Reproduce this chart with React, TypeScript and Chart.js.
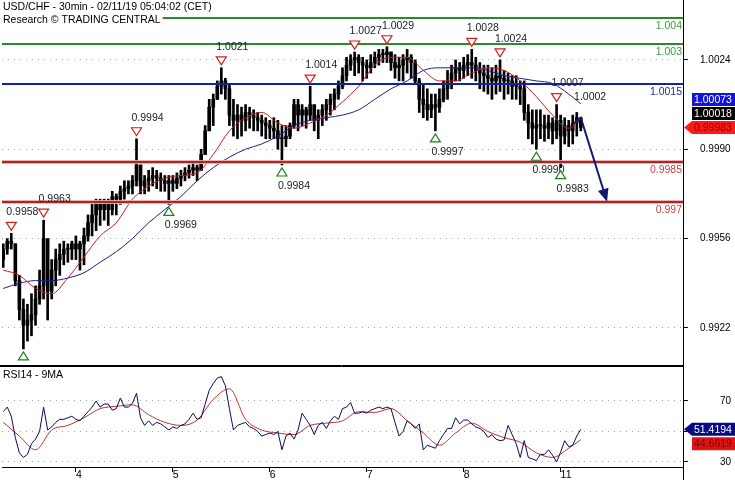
import React, { useEffect, useRef } from 'react';
import { Chart, registerables } from 'chart.js';

Chart.register(...registerables);

const FONT_FAMILY = '"Liberation Sans", Arial, sans-serif';
const FONT = '10.5px ' + FONT_FAMILY;

const titleLine1 = 'USD/CHF - 30min - 02/11/19 05:04:02 (CET)';
const titleLine2 = 'Research © TRADING CENTRAL';
const rsiTitle = 'RSI14 - 9MA';

// x axis: hourly bar index; day separators
const dayTickHours = [18, 42, 66, 90, 114, 138];
const dayTickLabels = ['4', '5', '6', '7', '8', '11'];
const priceTicks = [1.0024, 0.999, 0.9956, 0.9922];
const rsiTicks = [70, 50, 30];
const rsiTickLabels = ['70', '', '30'];

// hourly bars
const firstOpen = 0.9948;
const highs = [
  0.9954, 0.9956, 0.9958, 0.9954, 0.9942, 0.9933, 0.9931, 0.9935, 0.9938, 0.9944,
  0.9963, 0.9954, 0.9948, 0.9952, 0.9954, 0.9955, 0.9954, 0.9955, 0.9957, 0.9955,
  0.996, 0.9965, 0.9969, 0.9971, 0.9971, 0.9971, 0.9971, 0.9974, 0.9973, 0.9976,
  0.9978, 0.9978, 0.998, 0.9994, 0.9984, 0.998, 0.9982, 0.9983, 0.9982, 0.9981,
  0.998, 0.998, 0.998, 0.9981, 0.9982, 0.9983, 0.9984, 0.9985, 0.9984, 0.999,
  0.9999, 1.0009, 1.0011, 1.0016, 1.0021, 1.0017, 1.0015, 1.0009, 1.0007, 1.0006,
  1.0007, 1.0006, 1.0005, 1.0004, 1.0003, 1.0002, 1.0001, 1.0002, 1.0001, 0.9999,
  0.9999, 1.0, 1.0009, 1.0009, 1.0007, 1.0006, 1.0014, 1.0006, 1.0005, 1.0007,
  1.0009, 1.0011, 1.0013, 1.0016, 1.0021, 1.0025, 1.0026, 1.0027, 1.0026, 1.0025,
  1.0024, 1.0026, 1.0027, 1.0028, 1.0028, 1.0029, 1.0027, 1.0026, 1.0025, 1.0026,
  1.0028, 1.0026, 1.0024, 1.0017, 1.0015, 1.0013, 1.0011, 1.0011, 1.0013, 1.0016,
  1.002, 1.0022, 1.0024, 1.0023, 1.0025, 1.0026, 1.0028, 1.0025, 1.0023, 1.0022,
  1.0022, 1.0021, 1.0022, 1.0024, 1.002, 1.0019, 1.0018, 1.0018, 1.0016, 1.0016,
  1.0007, 1.0005, 1.0005, 1.0005, 1.0003, 1.0003, 1.0002, 1.0007, 1.0003, 1.0002,
  1.0001, 1.0003, 1.0004, 1.0002,
];
const lows = [
  0.9945, 0.995, 0.9952, 0.9938, 0.9925, 0.9914, 0.9917, 0.9919, 0.9923, 0.9931,
  0.9933, 0.9925, 0.9933, 0.9938, 0.9942, 0.9946, 0.9947, 0.9948, 0.9948, 0.9944,
  0.9946, 0.9955, 0.9957, 0.9959, 0.9961, 0.9963, 0.9961, 0.9965, 0.9965, 0.9969,
  0.9971, 0.9973, 0.9973, 0.9976, 0.9973, 0.9973, 0.9974, 0.9976, 0.9975, 0.9974,
  0.9974, 0.9969, 0.9974, 0.9975, 0.9976, 0.9978, 0.9979, 0.998, 0.9978, 0.9982,
  0.9988, 0.9997, 0.9999, 1.0009, 1.0011, 1.0009, 0.9999, 0.9995, 0.9994, 0.9995,
  0.9997, 0.9998, 0.9997, 0.9997, 0.9995, 0.9994, 0.9994, 0.9994, 0.999, 0.9984,
  0.9991, 0.9994, 0.9998, 0.9997, 0.9999, 0.9998, 1.0001, 0.9997, 0.9994, 0.9999,
  1.0001, 1.0003, 1.0005, 1.0009, 1.0013, 1.0016, 1.002, 1.0018, 1.0019, 1.0016,
  1.0017, 1.0019, 1.0021, 1.0022, 1.0023, 1.0023, 1.002, 1.0017, 1.0016, 1.0016,
  1.0019, 1.0017, 1.0015, 1.0004, 1.0002, 1.0001, 1.0002, 0.9997, 1.0004, 1.0008,
  1.0009, 1.0013, 1.0016, 1.0016, 1.0017, 1.0018, 1.0017, 1.0016, 1.0013, 1.0012,
  1.0011, 1.0009, 1.0011, 1.0012, 1.0009, 1.0011, 1.0009, 1.0009, 1.0007, 1.0001,
  0.9994, 0.9992, 0.999, 0.9994, 0.9993, 0.9994, 0.9992, 0.9994, 0.9983, 0.9992,
  0.9991, 0.9992, 0.9995, 0.9997,
];
const closes = [
  0.9952, 0.9955, 0.9954, 0.994, 0.9929, 0.9923, 0.9925, 0.9927, 0.9933, 0.9938,
  0.9956, 0.9936, 0.9944, 0.9948, 0.995, 0.9952, 0.9952, 0.9954, 0.9952, 0.9954,
  0.9957, 0.9962, 0.9965, 0.9969, 0.9967, 0.9969, 0.9967, 0.9972, 0.9971, 0.9974,
  0.9975, 0.9976, 0.9978, 0.9984, 0.9976, 0.9978, 0.9979, 0.998, 0.9979, 0.9978,
  0.9977, 0.9978, 0.9977, 0.9979, 0.998, 0.9981, 0.9982, 0.9983, 0.9982, 0.9988,
  0.9997, 1.0006, 1.0009, 1.0014, 1.0016, 1.0013, 1.0003, 1.0001, 1.0003, 1.0001,
  1.0004, 1.0003, 1.0002, 1.0001, 1.0, 0.9999, 0.9998, 0.9997, 0.9994, 0.9994,
  0.9995, 0.9999, 1.0007, 1.0003, 1.0005, 1.0003, 1.0007, 1.0001, 1.0003, 1.0005,
  1.0007, 1.0009, 1.0011, 1.0014, 1.0018, 1.0022, 1.0024, 1.0025, 1.0023, 1.0022,
  1.0021, 1.0023, 1.0025, 1.0026, 1.0026, 1.0027, 1.0023, 1.0021, 1.0022, 1.0024,
  1.0025, 1.0023, 1.0016, 1.0009, 1.0007, 1.0005, 1.0007, 1.0006, 1.0009, 1.0013,
  1.0016, 1.0019, 1.0021, 1.002, 1.0022, 1.0023, 1.0022, 1.002, 1.0019, 1.0018,
  1.0017, 1.0016, 1.0018, 1.0017, 1.0016, 1.0016, 1.0014, 1.0014, 1.0013, 1.0004,
  1.0, 0.9998, 0.9999, 0.9999, 0.9998, 1.0, 0.9997, 1.0001, 0.9995, 0.9999,
  0.9997, 1.0, 1.0002, 0.99983,
];

// moving averages sampled every 4 hours
const maHours = [0, 4, 8, 12, 16, 20, 24, 28, 32, 36, 40, 44, 48, 52, 56, 60, 64, 68, 72, 76, 80, 84, 88, 92, 96, 100, 104, 108, 112, 116, 120, 124, 128, 132, 136, 140, 143];
const fastMA = [
  0.9944, 0.9942, 0.9937, 0.9935, 0.9941, 0.9949, 0.9957, 0.9962, 0.9971, 0.9976,
  0.9979, 0.998, 0.9981, 0.9988, 0.9997, 1.0002, 1.0004, 1.0, 0.9998, 1.0,
  1.0003, 1.0008, 1.0014, 1.0022, 1.0025, 1.0025, 1.002, 1.0016, 1.0016, 1.0019,
  1.0021, 1.002, 1.0016, 1.001, 1.0003, 0.9998, 1.00018,
];
const slowMA = [
  0.9937, 0.9939, 0.994, 0.994, 0.9941, 0.9943, 0.9947, 0.9951, 0.9956, 0.9962,
  0.9967, 0.9972, 0.9978, 0.9983, 0.9987, 0.999, 0.9992, 0.9995, 0.9999, 1.0001,
  1.0002, 1.0003, 1.0005, 1.0009, 1.0013, 1.0016, 1.002, 1.0021, 1.0021, 1.0021,
  1.002, 1.0018, 1.0017, 1.0016, 1.0015, 1.0011, 1.00073,
];

// RSI14 hourly and its 9MA
const rsi = [
  63, 66, 60, 46, 36, 33, 35, 42, 45, 50,
  66, 51, 53, 56, 58, 58, 59, 60, 58, 57,
  60, 63, 66, 70, 66, 68, 68, 64, 65, 72,
  66, 66, 68.5, 75, 59, 54, 57, 54, 56, 55,
  53, 51, 53, 52, 54, 55, 58, 62, 58, 59,
  68, 77, 81.5, 85, 86, 80, 65, 51, 54, 55,
  56, 53, 52, 50, 47, 48, 49, 48, 50, 38,
  47, 49, 45, 51, 62, 58, 54, 48, 54, 56,
  52, 57, 60, 58, 65, 66, 69, 62, 62, 63,
  62, 64, 65, 66, 65, 66, 65, 56, 47, 50,
  57, 55, 52, 55, 38, 41, 40, 39, 44, 48,
  52, 52, 59, 55, 57.5, 57.5, 55, 53, 52, 50,
  46, 48, 45, 44, 44.5, 54, 48, 42, 33, 44,
  33, 32, 31, 35, 35, 38, 34.5, 30, 36.5, 44,
  40, 41, 47, 51.4194,
];
const rsiMA = [
  56, 47, 38, 51, 54, 59, 65, 66.5, 67.5, 61,
  56, 54, 57.5, 71, 78, 58, 51, 49, 48, 54,
  55.5, 57, 63, 62.5, 65, 57, 49, 41, 49, 55.5,
  50, 46, 43, 36, 33, 39, 44.6619,
];

// support / resistance levels
const levelValues = [1.004, 1.003, 1.0015, 0.9985, 0.997];
const levelLabels = ['1.004', '1.003', '1.0015', '0.9985', '0.997'];
const levelColors = ['#2c8a2c', '#2c8a2c', '#1022a8', '#a82828', '#a82828'];
const levelTextColors = ['#3c9c3c', '#3c9c3c', '#1a2a9a', '#c84444', '#c84444'];

// swing markers
const peakHours = [2, 10, 33, 54, 76, 87, 95, 116, 123, 137];
const peakValues = [0.9958, 0.9963, 0.9994, 1.0021, 1.0014, 1.0027, 1.0029, 1.0028, 1.0024, 1.0007];
const troughHours = [5, 41, 69, 107, 132, 138];
const troughValues = [0.9914, 0.9969, 0.9984, 0.9997, 0.999, 0.9983];

const noteHours = [145.3];
const noteValues = [1.001];
const noteTexts = ['1.0002'];

// projection arrow
const projHours = [141, 143, 149.5];
const projValues = [0.99995, 1.0002, 0.997];

const X_MIN = -0.3;
const X_MAX = 168.3;
const PRICE_MIN = 0.99075;
const PRICE_MAX = 1.00468;
const RSI_MIN = 26.72;
const RSI_MAX = 92.95;

function hLine(ctx: CanvasRenderingContext2D, x1: number, x2: number, y: number) {
  ctx.beginPath();
  ctx.moveTo(x1, y);
  ctx.lineTo(x2, y);
  ctx.stroke();
}

function drawTag(ctx: CanvasRenderingContext2D, y: number, text: string, bg: string, fg: string, arrow: boolean) {
  const x0 = 692;
  const x1 = 735;
  const h = 13;
  ctx.fillStyle = bg;
  ctx.beginPath();
  if (arrow) {
    ctx.moveTo(684, y);
    ctx.lineTo(x0, y - h / 2);
  } else {
    ctx.moveTo(x0, y - h / 2);
  }
  ctx.lineTo(x1, y - h / 2);
  ctx.lineTo(x1, y + h / 2);
  ctx.lineTo(x0, y + h / 2);
  ctx.closePath();
  ctx.fill();
  ctx.fillStyle = fg;
  ctx.font = FONT;
  ctx.textAlign = 'left';
  ctx.textBaseline = 'middle';
  ctx.fillText(text, 694, y + 0.5);
}

const pricePlugin = {
  id: 'priceOverlay',
  afterDatasetsDraw(chart: any) {
    const { ctx, chartArea: a, scales } = chart;
    const x = scales.x;
    const y = scales.y;
    ctx.save();
    // level lines
    levelValues.forEach((v, k) => {
      const py = Math.round(y.getPixelForValue(v));
      if (k >= 3) {
        ctx.strokeStyle = 'rgba(235,170,170,0.9)';
        ctx.lineWidth = 4;
        hLine(ctx, a.left, a.right, py);
      }
      ctx.strokeStyle = levelColors[k];
      ctx.lineWidth = 2;
      hLine(ctx, a.left, a.right, py);
      ctx.fillStyle = levelTextColors[k];
      ctx.font = FONT;
      ctx.textAlign = 'right';
      ctx.textBaseline = 'middle';
      ctx.fillText(levelLabels[k], a.right - 1, py + 8);
    });
    // projection arrow
    const pts = projHours.map((h, k) => [x.getPixelForValue(h), y.getPixelForValue(projValues[k])]);
    const tip = pts[pts.length - 1];
    const prev = pts[pts.length - 2];
    const ang = Math.atan2(tip[1] - prev[1], tip[0] - prev[0]);
    const L = 13;
    const W = 5.5;
    const bx = tip[0] - L * Math.cos(ang);
    const by = tip[1] - L * Math.sin(ang);
    ctx.strokeStyle = '#12196e';
    ctx.fillStyle = '#12196e';
    ctx.lineWidth = 2;
    ctx.beginPath();
    ctx.moveTo(pts[0][0], pts[0][1]);
    for (let k = 1; k < pts.length - 1; k++) ctx.lineTo(pts[k][0], pts[k][1]);
    ctx.lineTo(bx + 2 * Math.cos(ang), by + 2 * Math.sin(ang));
    ctx.stroke();
    ctx.beginPath();
    ctx.moveTo(tip[0], tip[1]);
    ctx.lineTo(bx - W * Math.sin(ang), by + W * Math.cos(ang));
    ctx.lineTo(bx + W * Math.sin(ang), by - W * Math.cos(ang));
    ctx.closePath();
    ctx.fill();
    // markers
    ctx.font = FONT;
    ctx.textBaseline = 'middle';
    ctx.textAlign = 'left';
    ctx.lineWidth = 1.2;
    peakHours.forEach((h, k) => {
      const px = x.getPixelForValue(h);
      const py = y.getPixelForValue(peakValues[k]);
      const cy = py - 7;
      ctx.beginPath();
      ctx.moveTo(px - 5, cy - 4);
      ctx.lineTo(px + 5, cy - 4);
      ctx.lineTo(px, cy + 4);
      ctx.closePath();
      ctx.fillStyle = '#fff';
      ctx.fill();
      ctx.strokeStyle = '#d02020';
      ctx.stroke();
      ctx.fillStyle = '#222';
      ctx.fillText(peakValues[k].toFixed(4), px - 5, py - 21);
    });
    troughHours.forEach((h, k) => {
      const px = x.getPixelForValue(h);
      const py = y.getPixelForValue(troughValues[k]);
      const cy = py + 7;
      ctx.beginPath();
      ctx.moveTo(px - 5, cy + 4);
      ctx.lineTo(px + 5, cy + 4);
      ctx.lineTo(px, cy - 4);
      ctx.closePath();
      ctx.fillStyle = '#fff';
      ctx.fill();
      ctx.strokeStyle = '#1f7f1f';
      ctx.stroke();
      ctx.fillStyle = '#222';
      ctx.fillText(troughValues[k].toFixed(4), px - 4, py + 21);
    });
    noteHours.forEach((h, k) => {
      ctx.fillStyle = '#222';
      ctx.textAlign = 'center';
      ctx.fillText(noteTexts[k], x.getPixelForValue(h), y.getPixelForValue(noteValues[k]));
    });
    ctx.restore();
  },
  afterDraw(chart: any) {
    const { ctx, chartArea: a, scales } = chart;
    const y = scales.y;
    ctx.save();
    // title with white background
    ctx.font = FONT;
    ctx.textAlign = 'left';
    ctx.textBaseline = 'middle';
    const w1 = ctx.measureText(titleLine1).width;
    const w2 = ctx.measureText(titleLine2).width;
    ctx.fillStyle = '#fff';
    ctx.fillRect(0, 0, w1 + 5, 13);
    ctx.fillRect(0, 13, w2 + 5, 13);
    ctx.fillStyle = '#000';
    ctx.fillText(titleLine1, 3, 7);
    ctx.fillText(titleLine2, 3, 20);
    // bottom separator
    ctx.strokeStyle = '#000';
    ctx.lineWidth = 1;
    hLine(ctx, 0, a.right, a.bottom - 0.5);
    // value tags
    const lastClose = closes[closes.length - 1];
    const lastFast = fastMA[fastMA.length - 1];
    const lastSlow = slowMA[slowMA.length - 1];
    const yClose = y.getPixelForValue(lastClose);
    const yFast = Math.min(y.getPixelForValue(lastFast), yClose - 14);
    const ySlow = Math.min(y.getPixelForValue(lastSlow), yFast - 14);
    drawTag(ctx, ySlow, lastSlow.toFixed(5), '#1414d8', '#fff', false);
    drawTag(ctx, yFast, lastFast.toFixed(5), '#000', '#fff', false);
    drawTag(ctx, yClose, lastClose.toFixed(5), '#ff1a1a', '#8a0000', true);
    ctx.restore();
  },
};

const rsiPlugin = {
  id: 'rsiOverlay',
  afterDraw(chart: any) {
    const { ctx, chartArea: a, scales } = chart;
    const y = scales.y;
    ctx.save();
    ctx.strokeStyle = '#000';
    ctx.lineWidth = 1;
    hLine(ctx, 0, a.right, 0.5);
    ctx.beginPath();
    ctx.moveTo(Math.round(a.right) + 0.5, a.bottom);
    ctx.lineTo(Math.round(a.right) + 0.5, chart.height);
    ctx.stroke();
    ctx.font = FONT;
    ctx.fillStyle = '#000';
    ctx.textAlign = 'left';
    ctx.textBaseline = 'middle';
    ctx.fillText(rsiTitle, 3, 9);
    const lastRsi = rsi[rsi.length - 1];
    const lastMa = rsiMA[rsiMA.length - 1];
    const yR = y.getPixelForValue(lastRsi);
    const yM = Math.max(y.getPixelForValue(lastMa), yR + 14.5);
    drawTag(ctx, yR, lastRsi.toFixed(4), '#0a0a80', '#fff', true);
    drawTag(ctx, yM, lastMa.toFixed(4), '#e01414', '#7a0000', false);
    ctx.restore();
  },
};

function priceConfig(): any {
  const opens = closes.map((c, i) => (i === 0 ? firstOpen : closes[i - 1]));
  return {
    type: 'bar',
    data: {
      datasets: [
        {
          type: 'line',
          data: maHours.map((h, k) => ({ x: h, y: fastMA[k] })),
          borderColor: '#c81e1e',
          borderWidth: 1,
          pointRadius: 0,
          cubicInterpolationMode: 'monotone',
          order: 0,
        },
        {
          type: 'line',
          data: maHours.map((h, k) => ({ x: h, y: slowMA[k] })),
          borderColor: '#1c1c8c',
          borderWidth: 1,
          pointRadius: 0,
          cubicInterpolationMode: 'monotone',
          order: 0,
        },
        {
          type: 'bar',
          data: highs.map((hv, i) => ({ x: i, y: [lows[i], hv] })),
          backgroundColor: '#000',
          barThickness: 2,
          grouped: false,
          order: 2,
        },
        {
          type: 'bar',
          data: closes.map((c, i) => ({ x: i, y: [opens[i], c] })),
          backgroundColor: '#000',
          barThickness: 3,
          minBarLength: 1,
          grouped: false,
          order: 1,
        },
      ],
    },
    options: {
      animation: false,
      responsive: false,
      maintainAspectRatio: false,
      layout: { padding: { left: 2, right: 0, top: 0, bottom: 0 } },
      plugins: { legend: { display: false }, tooltip: { enabled: false } },
      scales: {
        x: { type: 'linear', min: X_MIN, max: X_MAX, display: false, offset: false, grid: { offset: false } },
        y: {
          position: 'right',
          min: PRICE_MIN,
          max: PRICE_MAX,
          beginAtZero: false,
          afterBuildTicks: (s: any) => {
            s.ticks = priceTicks.map((v) => ({ value: v }));
          },
          afterFit: (s: any) => {
            s.width = 52;
            s.paddingTop = 0;
            s.paddingBottom = 0;
          },
          ticks: {
            crossAlign: 'near',
            padding: 12,
            color: '#000',
            font: { family: FONT_FAMILY, size: 10 },
            callback: (v: any) => Number(v).toFixed(4),
          },
          grid: { color: '#a8a8a8', tickColor: '#000', tickLength: 5, lineWidth: 1 },
          border: { display: true, color: '#000', width: 1, dash: [1, 5] },
        },
      },
    },
    plugins: [pricePlugin],
  };
}

function rsiConfig(): any {
  return {
    type: 'line',
    data: {
      datasets: [
        {
          data: rsi.map((v, i) => ({ x: i, y: v })),
          borderColor: '#0a0a5a',
          borderWidth: 1,
          pointRadius: 0,
          tension: 0,
          order: 0,
        },
        {
          data: maHours.map((h, k) => ({ x: h, y: rsiMA[k] })),
          borderColor: '#c03030',
          borderWidth: 1,
          pointRadius: 0,
          cubicInterpolationMode: 'monotone',
          order: 1,
        },
      ],
    },
    options: {
      animation: false,
      responsive: false,
      maintainAspectRatio: false,
      layout: { padding: { left: 2, right: 0, top: 0, bottom: 0 } },
      plugins: { legend: { display: false }, tooltip: { enabled: false } },
      scales: {
        x: {
          type: 'linear',
          min: X_MIN,
          max: X_MAX,
          offset: false,
          afterBuildTicks: (s: any) => {
            s.ticks = dayTickHours.map((v) => ({ value: v }));
          },
          afterFit: (s: any) => {
            s.height = 13;
            s.paddingLeft = 0;
            s.paddingRight = 0;
          },
          ticks: {
            autoSkip: false,
            maxRotation: 0,
            align: 'start',
            padding: -3,
            color: '#000',
            font: { family: FONT_FAMILY, size: 10.5 },
            callback: (_v: any, idx: number) => dayTickLabels[idx],
          },
          grid: { drawOnChartArea: false, tickColor: '#000', tickLength: 5 },
          border: { display: true, color: '#000', width: 1 },
        },
        y: {
          position: 'right',
          min: RSI_MIN,
          max: RSI_MAX,
          afterBuildTicks: (s: any) => {
            s.ticks = rsiTicks.map((v) => ({ value: v }));
          },
          afterFit: (s: any) => {
            s.width = 52;
            s.paddingTop = 0;
            s.paddingBottom = 0;
          },
          ticks: {
            crossAlign: 'near',
            padding: 32,
            color: '#000',
            font: { family: FONT_FAMILY, size: 10 },
            callback: (_v: any, idx: number) => rsiTickLabels[idx],
          },
          grid: { color: '#a8a8a8', tickColor: '#000', tickLength: 5, lineWidth: 1 },
          border: { display: true, color: '#000', width: 1, dash: [1, 5] },
        },
      },
    },
    plugins: [rsiPlugin],
  };
}

export default function App() {
  const priceRef = useRef<HTMLCanvasElement>(null);
  const rsiRef = useRef<HTMLCanvasElement>(null);
  useEffect(() => {
    document.body.style.margin = '0';
    const c1 = new Chart(priceRef.current as HTMLCanvasElement, priceConfig());
    const c2 = new Chart(rsiRef.current as HTMLCanvasElement, rsiConfig());
    return () => {
      c1.destroy();
      c2.destroy();
    };
  }, []);
  return (
    <div style={{ width: 735, height: 480, background: '#fff', overflow: 'hidden' }}>
      <canvas ref={priceRef} width={735} height={366} style={{ display: 'block' }} />
      <canvas ref={rsiRef} width={735} height={114} style={{ display: 'block' }} />
    </div>
  );
}
